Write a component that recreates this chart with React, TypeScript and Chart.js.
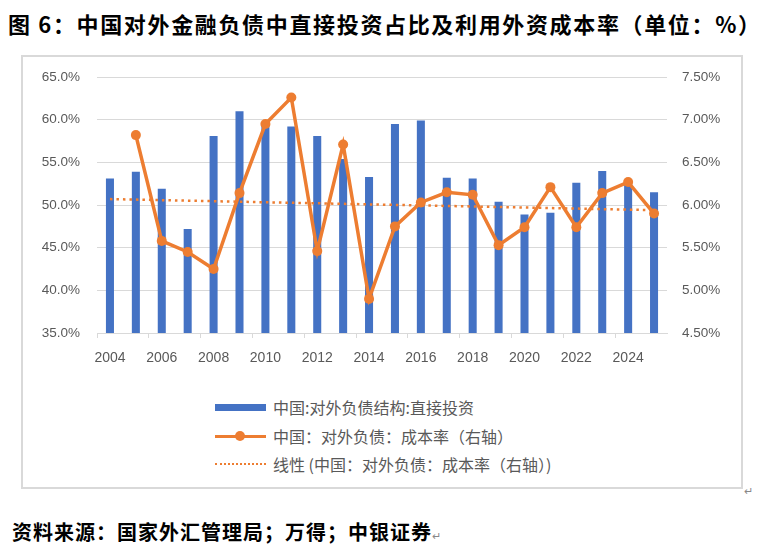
import React, { useEffect, useRef } from 'react';
import { Chart, registerables, ChartConfiguration } from 'chart.js';

Chart.register(...registerables);

// 年份
const years = [
  '2004', '2005', '2006', '2007', '2008', '2009', '2010', '2011', '2012', '2013', '2014',
  '2015', '2016', '2017', '2018', '2019', '2020', '2021', '2022', '2023', '2024', '2025',
];

// 中国:对外负债结构:直接投资 (%), 左轴
const fdiShare = [
  53.1, 53.9, 51.9, 47.2, 58.1, 61.0, 59.4, 59.2, 58.1, 55.4, 53.3,
  59.5, 59.9, 53.2, 53.1, 50.4, 48.9, 49.1, 52.6, 54.0, 52.6, 51.5,
];

// 中国：对外负债：成本率 (%), 右轴
const costRate = [
  null, 6.82, 5.58, 5.45, 5.25, 6.14, 6.95, 7.26, 5.46, 6.71, 4.90,
  5.75, 6.03, 6.15, 6.12, 5.53, 5.74, 6.21, 5.74, 6.14, 6.27, 5.90,
];

// 线性趋势线，两端读数
const trendRate = [
  6.07, null, null, null, null, null, null, null, null, null, null,
  null, null, null, null, null, null, null, null, null, null, 5.94,
];

const BLUE = '#4472C4';
const ORANGE = '#ED7D31';
const GRID = '#d9d9d9';
const TEXT = '#595959';
const CJK = '"Noto Sans CJK SC", "Noto Sans", sans-serif';

const ComboChart: React.FC = () => {
  const canvasRef = useRef<HTMLCanvasElement>(null);
  const chartRef = useRef<Chart | null>(null);

  useEffect(() => {
    const ctx = canvasRef.current?.getContext('2d');
    if (!ctx) return;
    if (chartRef.current) chartRef.current.destroy();

    chartRef.current = new Chart(ctx, {
      type: 'bar',
      data: {
        labels: years,
        datasets: [
          {
            type: 'line',
            label: '中国：对外负债：成本率（右轴）',
            data: costRate,
            yAxisID: 'y1',
            borderColor: ORANGE,
            backgroundColor: ORANGE,
            borderWidth: 3.5,
            pointRadius: 5,
            pointBorderWidth: 0,
            tension: 0,
            order: 1,
          },
          {
            type: 'line',
            label: '线性 (中国：对外负债：成本率（右轴）)',
            data: trendRate,
            yAxisID: 'y1',
            borderColor: ORANGE,
            borderWidth: 2.5,
            borderDash: [2.5, 4],
            pointRadius: 0,
            spanGaps: true,
            order: 2,
          },
          {
            type: 'bar',
            label: '中国:对外负债结构:直接投资',
            data: fdiShare,
            yAxisID: 'y',
            backgroundColor: BLUE,
            categoryPercentage: 1,
            barPercentage: 0.31,
            order: 3,
          },
        ],
      },
      options: {
        animation: false,
        responsive: true,
        maintainAspectRatio: false,
        // plot top comes from the y-axis label padding (~25px)
        layout: { padding: 0 },
        plugins: {
          legend: { display: false },
          tooltip: { enabled: false },
        },
        scales: {
          x: {
            offset: true,
            afterFit: (scale: any) => {
              scale.height = 43;
            },
            grid: {
              offset: true,
              drawOnChartArea: false,
              drawTicks: true,
              tickLength: 5,
              color: (c: any) => (c.index % 2 === 0 ? GRID : 'rgba(0,0,0,0)'),
            },
            border: { display: true, color: GRID },
            ticks: {
              autoSkip: false,
              maxRotation: 0,
              padding: 12,
              color: TEXT,
              font: { family: '"Liberation Sans", Arial, sans-serif', size: 14 },
              callback: (_v: any, i: number) => (i % 2 === 0 ? years[i] : ''),
            },
          },
          y: {
            position: 'left',
            min: 35,
            max: 65,
            afterFit: (scale: any) => {
              scale.width = 75;
            },
            grid: { color: GRID, drawTicks: false },
            border: { display: false },
            ticks: {
              stepSize: 5,
              padding: 17,
              color: TEXT,
              font: { family: '"Liberation Sans", Arial, sans-serif', size: 13.5 },
              callback: (v: any) => `${Number(v).toFixed(1)}%`,
            },
          },
          y1: {
            position: 'right',
            min: 4.5,
            max: 7.5,
            afterFit: (scale: any) => {
              scale.width = 75;
            },
            grid: { drawOnChartArea: false, drawTicks: false },
            border: { display: false },
            ticks: {
              stepSize: 0.5,
              padding: 15,
              color: TEXT,
              font: { family: '"Liberation Sans", Arial, sans-serif', size: 13.5 },
              callback: (v: any) => `${Number(v).toFixed(2)}%`,
            },
          },
        },
      },
    } as ChartConfiguration);

    return () => {
      if (chartRef.current) {
        chartRef.current.destroy();
        chartRef.current = null;
      }
    };
  }, []);

  return (
    <div style={{ position: 'absolute', left: 22, top: 52, width: 720, height: 324 }}>
      <canvas ref={canvasRef} />
    </div>
  );
};

const legendText: React.CSSProperties = {
  position: 'absolute',
  left: 273,
  fontFamily: CJK,
  fontSize: 16,
  lineHeight: '20px',
  color: TEXT,
  whiteSpace: 'nowrap',
};

const App: React.FC = () => {
  useEffect(() => {
    document.body.style.margin = '0';
  }, []);

  return (
    <div style={{ position: 'relative', width: 758, height: 550, background: '#fff', overflow: 'hidden' }}>
      <div
        style={{
          position: 'absolute',
          left: 8,
          top: 12,
          fontFamily: CJK,
          fontWeight: 700,
          fontSize: 22,
          lineHeight: '22px',
          letterSpacing: 1.65,
          color: '#000',
          whiteSpace: 'nowrap',
        }}
      >
        图 6：中国对外金融负债中直接投资占比及利用外资成本率（单位：%）
      </div>

      <div
        style={{
          position: 'absolute',
          left: 21,
          top: 55,
          width: 722,
          height: 434,
          boxSizing: 'border-box',
          border: `2px solid ${GRID}`,
        }}
      />

      <ComboChart />

      {/* legend */}
      <div style={{ position: 'absolute', left: 215, top: 404, width: 51, height: 7, background: BLUE }} />
      <div style={{ ...legendText, top: 397 }}>中国:对外负债结构:直接投资</div>

      <div style={{ position: 'absolute', left: 215, top: 434.5, width: 51, height: 3, background: ORANGE }} />
      <div
        style={{
          position: 'absolute',
          left: 235,
          top: 431,
          width: 10,
          height: 10,
          borderRadius: '50%',
          background: ORANGE,
        }}
      />
      <div style={{ ...legendText, top: 426 }}>中国：对外负债：成本率（右轴）</div>

      <div
        style={{
          position: 'absolute',
          left: 215,
          top: 463,
          width: 51,
          height: 0,
          borderTop: `2px dotted ${ORANGE}`,
        }}
      />
      <div style={{ ...legendText, top: 454 }}>线性 (中国：对外负债：成本率（右轴）)</div>

      <div style={{ position: 'absolute', left: 744, top: 482, fontSize: 11, color: '#888', fontFamily: CJK }}>↵</div>

      <div
        style={{
          position: 'absolute',
          left: 12,
          top: 521,
          fontFamily: CJK,
          fontWeight: 700,
          fontSize: 20,
          lineHeight: '22px',
          letterSpacing: 1,
          color: '#000',
          whiteSpace: 'nowrap',
        }}
      >
        资料来源：国家外汇管理局；万得；中银证券
        <span style={{ fontSize: 11, fontWeight: 400, color: '#888', letterSpacing: 0 }}>↵</span>
      </div>
    </div>
  );
};

export default App;
